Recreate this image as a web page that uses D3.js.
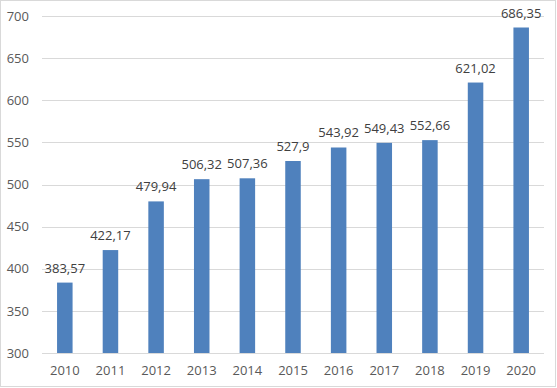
<!DOCTYPE html>
<html><head><meta charset="utf-8">
<script src="https://cdn.jsdelivr.net/npm/d3@7"></script>
<style>body{margin:0;background:#fff}svg{display:block}</style>
</head><body>
<svg id="c" width="557" height="388"></svg>
<script>
const years = ["2010","2011","2012","2013","2014","2015","2016","2017","2018","2019","2020"];
const values = [383.57,422.17,479.94,506.32,507.36,527.9,543.92,549.43,552.66,621.02,686.35];
const labels = ["383,57","422,17","479,94","506,32","507,36","527,9","543,92","549,43","552,66","621,02","686,35"];
const yTicks = [300,350,400,450,500,550,600,650,700];

const svg = d3.select("#c");
const font = "Open Sans, Noto Sans, sans-serif";
svg.append("rect").attr("x",0.5).attr("y",0.5).attr("width",555).attr("height",386)
  .attr("fill","#fff").attr("stroke","#d9d9d9");

const x = d3.scaleBand().domain(years).range([42,544]).paddingInner(0.66).paddingOuter(0.33);
const y = d3.scaleLinear().domain([300,700]).range([353,16]);

const g = svg.append("g");
g.selectAll("line.grid").data(yTicks).join("line")
  .attr("x1",42).attr("x2",544)
  .attr("y1",d=>Math.round(y(d))+0.5).attr("y2",d=>Math.round(y(d))+0.5)
  .attr("stroke","#d9d9d9").attr("stroke-width",1);

const yAxis = svg.append("g").attr("transform","translate(42,0)")
  .call(d3.axisLeft(y).tickValues(yTicks).tickSize(0).tickPadding(13));
yAxis.select(".domain").remove();
yAxis.selectAll("text").attr("fill","#595959").attr("font-size",13).attr("font-family",font);

g.selectAll("rect.bar").data(values).join("rect")
  .attr("x",(d,i)=>x(years[i])).attr("width",x.bandwidth())
  .attr("y",d=>y(d)).attr("height",d=>y(300)-y(d))
  .attr("fill","#4f81bd");

g.selectAll("text.lab").data(values).join("text")
  .attr("x",(d,i)=>x(years[i])+x.bandwidth()/2).attr("y",d=>y(d)-10)
  .attr("text-anchor","middle").attr("fill","#404040").attr("font-size",13).attr("font-family",font)
  .text((d,i)=>labels[i]);

const xAxis = svg.append("g").attr("transform","translate(0,353)")
  .call(d3.axisBottom(x).tickSize(0).tickPadding(13));
xAxis.select(".domain").remove();
xAxis.selectAll("text").attr("fill","#595959").attr("font-size",13).attr("font-family",font);
</script>
</body></html>
